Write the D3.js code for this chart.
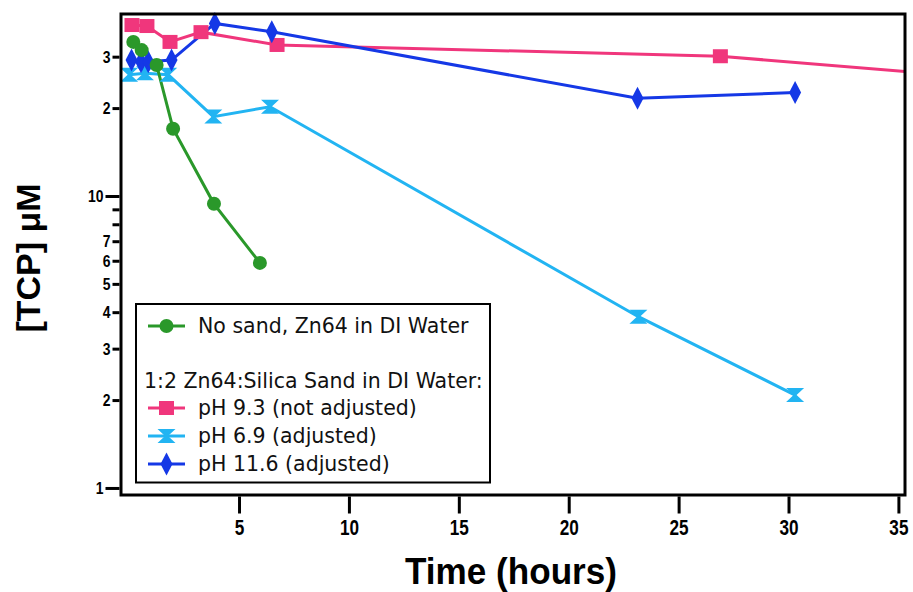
<!DOCTYPE html>
<html><head><meta charset="utf-8">
<script src="https://cdn.jsdelivr.net/npm/d3@7/dist/d3.min.js"></script>
<style>body{margin:0;background:#fff}svg{display:block}</style>
</head><body><svg id="c" width="913" height="592"></svg>
<script>
// ---- data ----
const greenT = [0.19, 0.57, 1.25, 2.0, 3.86, 5.95];
const greenV = [33.7, 31.6, 28.1, 17.0, 9.4, 5.9];
const pinkT = [0.13, 0.81, 1.86, 3.27, 6.73, 26.9, 48];
const pinkV = [38.5, 38.2, 33.7, 36.4, 32.9, 30.1, 22.2];
const skyT = [0.0, 0.72, 1.78, 3.83, 6.41, 23.17, 30.3];
const skyV = [26.0, 26.3, 26.0, 18.7, 20.2, 3.86, 2.08];
const navyT = [0.11, 0.54, 0.87, 1.93, 3.9, 6.49, 23.13, 30.3];
const navyV = [29.2, 28.8, 28.8, 29.2, 39.0, 36.5, 21.6, 22.6];
const xTickValues = [5, 10, 15, 20, 25, 30, 35];
const yTickValues = [1, 2, 3, 4, 5, 6, 7, 8, 9, 10, 20, 30];
const yTickLabels = ["1", "2", "3", "4", "5", "6", "7", "", "", "10", "2", "3"];
const legendLabels = ["No sand, Zn64 in DI Water", "1:2 Zn64:Silica Sand in DI Water:",
  "pH 9.3 (not adjusted)", "pH 6.9 (adjusted)", "pH 11.6 (adjusted)"];
const xTitle = "Time (hours)";
const yTitle = "[TCP] \u03bcM";

// ---- layout ----
const L = 121, R = 905, T = 14, B = 495;
const svg = d3.select("#c");
const x = d3.scaleLinear().domain([-0.37, 35.3]).range([L, R]);
const y = d3.scaleLog().domain([0.946, 42.0]).range([B, T]);

const COL = {green: "#2a982a", pink: "#f0367c", sky: "#22b4f2", navy: "#1538e6"};
const tickFont = "'Liberation Sans','Arial',sans-serif";
const titleFont = "'Liberation Sans','Arial',sans-serif";
const legFont = "'DejaVu Sans','Verdana',sans-serif";

svg.append("clipPath").attr("id", "clip").append("rect")
  .attr("x", L).attr("y", T).attr("width", R - L).attr("height", B - T);

// markers
function marker(g, kind, cx, cy) {
  if (kind === "green") {
    g.append("circle").attr("cx", cx).attr("cy", cy).attr("r", 7).attr("fill", COL.green);
  } else if (kind === "pink") {
    g.append("rect").attr("x", cx - 7.5).attr("y", cy - 7).attr("width", 15).attr("height", 14).attr("fill", COL.pink);
  } else if (kind === "sky") {
    g.append("path").attr("d", `M${cx-9},${cy-7}L${cx+9},${cy-7}L${cx+1.5},${cy}L${cx+9},${cy+7}L${cx-9},${cy+7}L${cx-1.5},${cy}Z`).attr("fill", COL.sky);
  } else {
    g.append("path").attr("d", `M${cx},${cy-11.5}L${cx+6},${cy}L${cx},${cy+11.5}L${cx-6},${cy}Z`).attr("fill", COL.navy);
  }
}

const series = [
  {k: "pink", t: pinkT, v: pinkV},
  {k: "sky", t: skyT, v: skyV},
  {k: "navy", t: navyT, v: navyV},
  {k: "green", t: greenT, v: greenV}
];
const line = d3.line().x(d => x(d[0])).y(d => y(d[1]));
const plot = svg.append("g").attr("clip-path", "url(#clip)");
series.forEach(s => {
  const pts = s.t.map((t, i) => [t, s.v[i]]);
  plot.append("path").attr("d", line(pts)).attr("fill", "none")
    .attr("stroke", COL[s.k]).attr("stroke-width", 3);
});
const mk = svg.append("g");
series.forEach(s => {
  s.t.forEach((t, i) => { if (t <= 35.3) marker(mk, s.k, x(t), y(s.v[i])); });
});

// frame
svg.append("rect").attr("x", L).attr("y", T).attr("width", R - L).attr("height", B - T)
  .attr("fill", "none").attr("stroke", "#000").attr("stroke-width", 3);

// x axis
const xa = svg.append("g").attr("transform", `translate(0,${B + 1.5})`)
  .call(d3.axisBottom(x).tickValues(xTickValues).tickSize(17).tickPadding(6).tickFormat(d3.format("d")));
xa.select(".domain").remove();
xa.selectAll("line").attr("stroke", "#000").attr("stroke-width", 3);
xa.selectAll("text").attr("font-family", tickFont).attr("font-weight", "bold").attr("font-size", 22)
  .attr("fill", "#000").attr("transform", "scale(0.78,1)");

// y axis
const ya = svg.append("g").attr("transform", `translate(${L - 1.5},0)`)
  .call(d3.axisLeft(y).tickValues(yTickValues).tickSize(7).tickPadding(2)
    .tickFormat((d, i) => yTickLabels[i]));
ya.select(".domain").remove();
ya.selectAll("line").attr("stroke", "#000").attr("stroke-width", 3);
const ysx = 0.82;
ya.selectAll("text").attr("font-family", tickFont).attr("font-weight", "bold").attr("font-size", 17)
  .attr("fill", "#000").attr("x", -9 / ysx).attr("transform", `scale(${ysx},1)`);
ya.selectAll(".tick").filter(d => d === 1 || d === 10).select("line").attr("x2", -14);
ya.selectAll(".tick").filter(d => d === 1 || d === 10).select("text").attr("x", -16 / ysx);

function fitScale(sel, target) {
  const w = sel.node().getComputedTextLength();
  return target / w;
}

// titles
const xt = svg.append("text").attr("text-anchor", "middle")
  .attr("font-family", titleFont).attr("font-weight", "bold").attr("font-size", 36).text(xTitle);
const sx = fitScale(xt, 212);
xt.attr("transform", `translate(511,584) scale(${sx},1)`);
const yt = svg.append("text").attr("text-anchor", "middle")
  .attr("font-family", titleFont).attr("font-weight", "bold").attr("font-size", 34).text(yTitle);
const sy = fitScale(yt, 149);
yt.attr("transform", `translate(40,258) rotate(-90) scale(${sy},1)`);

// legend
const lg = svg.append("g");
lg.append("rect").attr("x", 136).attr("y", 304).attr("width", 354).attr("height", 178.5)
  .attr("fill", "#fff").attr("stroke", "#000").attr("stroke-width", 2);
const rowY = [326, 381, 408, 436, 464];
const rowKind = ["green", null, "pink", "sky", "navy"];
const texts = [];
legendLabels.forEach((lab, i) => {
  const k = rowKind[i];
  if (k) {
    lg.append("line").attr("x1", 148).attr("x2", 185).attr("y1", rowY[i]).attr("y2", rowY[i])
      .attr("stroke", COL[k]).attr("stroke-width", 3);
    marker(lg, k, 166.5, rowY[i]);
  }
  texts.push(lg.append("text").attr("x", k ? 198 : 144).attr("y", rowY[i]).attr("dy", "0.36em")
    .attr("font-family", legFont).attr("font-size", 19).attr("fill", "#111").text(lab));
});
const fsL = 19 * fitScale(texts[1], 339);
texts.forEach(t => t.attr("font-size", fsL));
</script></body></html>
